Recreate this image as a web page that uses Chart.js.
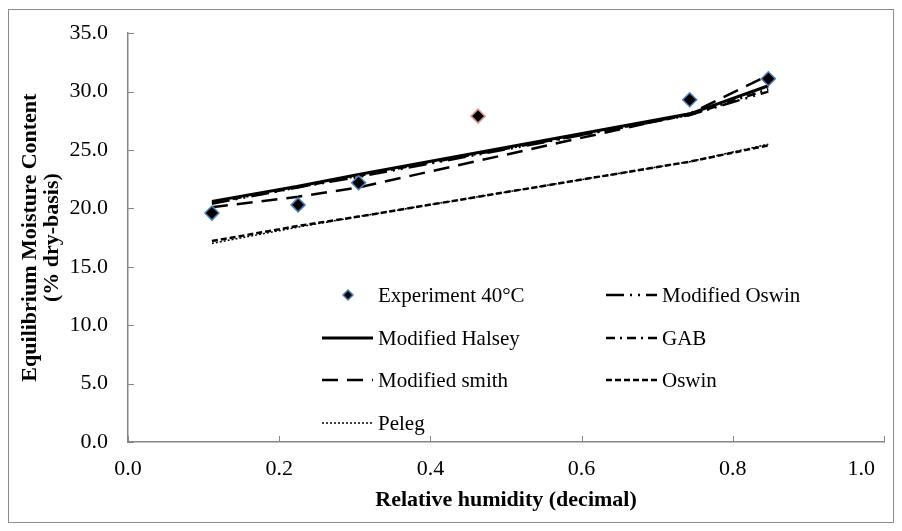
<!DOCTYPE html>
<html>
<head>
<meta charset="utf-8">
<script src="https://cdn.jsdelivr.net/npm/chart.js@4"></script>
<style>
  html, body { margin: 0; padding: 0; background: #fff; }
  #wrap { width: 902px; height: 531px; }
</style>
</head>
<body>
<div id="wrap"><canvas id="emcChart" width="902" height="531"></canvas></div>
<script>
// measured sorption data at 40°C
const rhExp = [0.111, 0.225, 0.305, 0.463, 0.743, 0.847];
const emcExp = [19.6, 20.3, 22.2, 27.9, 29.3, 31.1];

// model predictions
const rhModel = [0.111, 0.225, 0.305, 0.743, 0.847];
const halsey = [20.6, 21.9, 22.9, 28.1, 30.5];
const smith = [20.1, 21.0, 21.8, 28.1, 31.4];
const modOswin = [20.4, 21.8, 22.7, 28.0, 30.0];
const gab = [20.5, 21.8, 22.8, 28.0, 30.2];
const oswin = [17.2, 18.5, 19.3, 24.0, 25.4];
const peleg = [17.0, 18.4, 19.3, 24.0, 25.5];

const FONT = "'Liberation Serif', 'Times New Roman', serif";
const AXIS_GREY = '#868686';
const TICK_SIZE = 22;

function pts(xs, ys) {
    return xs.map((x, i) => ({ x: x, y: ys[i] }));
}

function modelSet(label, ys, dash, width) {
    return {
        label: label,
        data: pts(rhModel, ys),
        showLine: true,
        borderColor: '#000',
        borderWidth: width,
        borderDash: dash,
        pointRadius: 0,
        pointHoverRadius: 0,
        fill: false
    };
}

const datasets = [
    {
        label: 'Experiment 40°C',
        data: pts(rhExp, emcExp),
        pointStyle: 'rectRot',
        pointRadius: 7,
        pointBorderWidth: 1.5,
        pointBackgroundColor: '#000',
        pointBorderColor: emcExp.map((v, i) => i === 3 ? '#d99694' : '#4f81bd'),
        showLine: false
    },
    modelSet('Modified Oswin', modOswin, [18, 6, 2, 6, 2, 6], 2.5),
    modelSet('Modified Halsey', halsey, [], 3),
    modelSet('GAB', gab, [9, 5, 2, 5], 2.5),
    modelSet('Modified smith', smith, [16, 9], 2.5),
    modelSet('Oswin', oswin, [6, 3], 2.5),
    modelSet('Peleg', peleg, [2, 2], 1.5)
];

// legend sits inside the plot, two columns
const legendSlots = [
    { x: 322, y: 295 }, { x: 606, y: 295 },
    { x: 322, y: 338 }, { x: 606, y: 338 },
    { x: 322, y: 380 }, { x: 606, y: 380 },
    { x: 322, y: 423 }
];

const innerLegend = {
    id: 'innerLegend',
    afterDraw(chart) {
        const ctx = chart.ctx;
        ctx.save();
        ctx.font = '21px ' + FONT;
        ctx.textBaseline = 'middle';
        chart.data.datasets.forEach((ds, i) => {
            const s = legendSlots[i];
            if (ds.showLine) {
                ctx.beginPath();
                ctx.strokeStyle = ds.borderColor;
                ctx.lineWidth = ds.borderWidth;
                ctx.setLineDash(ds.borderDash);
                ctx.moveTo(s.x, s.y);
                ctx.lineTo(s.x + 51, s.y);
                ctx.stroke();
                ctx.setLineDash([]);
            } else {
                ctx.fillStyle = '#000';
                ctx.strokeStyle = '#4f81bd';
                ctx.lineWidth = 1.5;
                ctx.beginPath();
                ctx.moveTo(s.x + 26, s.y - 5);
                ctx.lineTo(s.x + 31, s.y);
                ctx.lineTo(s.x + 26, s.y + 5);
                ctx.lineTo(s.x + 21, s.y);
                ctx.closePath();
                ctx.fill();
                ctx.stroke();
            }
            ctx.fillStyle = '#000';
            ctx.fillText(ds.label, s.x + 56, s.y + 1);
        });
        ctx.restore();
    }
};

// tick marks pointing into the plot, the last x label pulled in, and the outer frame
const innerTicks = {
    id: 'innerTicks',
    afterDraw(chart) {
        const ctx = chart.ctx;
        const area = chart.chartArea;
        const xs = chart.scales.x, ys = chart.scales.y;
        ctx.save();
        ctx.strokeStyle = AXIS_GREY;
        ctx.lineWidth = 1;
        ctx.beginPath();
        xs.ticks.forEach(t => {
            const px = Math.round(xs.getPixelForValue(t.value)) + 0.5;
            ctx.moveTo(px, area.bottom);
            ctx.lineTo(px, area.bottom - 6);
        });
        ys.ticks.forEach(t => {
            const py = Math.round(ys.getPixelForValue(t.value)) + 0.5;
            ctx.moveTo(area.left, py);
            ctx.lineTo(area.left + 6, py);
        });
        ctx.stroke();

        ctx.font = TICK_SIZE + 'px ' + FONT;
        ctx.fillStyle = '#000';
        ctx.textAlign = 'right';
        ctx.textBaseline = 'top';
        ctx.fillText(xs.max.toFixed(1), xs.getPixelForValue(xs.max) - 9, area.bottom + 16);

        ctx.strokeStyle = '#8c8c8c';
        ctx.strokeRect(8.5, 9.5, 885, 513);
        ctx.restore();
    }
};

const ctx = document.getElementById('emcChart').getContext('2d');
new Chart(ctx, {
    type: 'scatter',
    data: { datasets: datasets },
    options: {
        responsive: false,
        animation: false,
        events: [],
        layout: { padding: { left: 0, top: 33, right: 18, bottom: 0 } },
        plugins: {
            legend: { display: false },
            tooltip: { enabled: false }
        },
        scales: {
            x: {
                type: 'linear',
                min: 0,
                max: 1,
                afterFit(scale) {
                    scale.height = 89;
                    scale.paddingRight = 0;
                },
                ticks: {
                    stepSize: 0.2,
                    padding: 14,
                    color: '#000',
                    font: { family: FONT, size: TICK_SIZE },
                    callback: v => v >= 1 ? '' : v.toFixed(1)
                },
                grid: { display: false, drawTicks: false },
                border: { display: true, color: AXIS_GREY, width: 1.5 },
                title: {
                    display: true,
                    text: 'Relative humidity (decimal)',
                    color: '#000',
                    font: { family: FONT, size: 22, weight: 'bold' },
                    padding: { top: 0, bottom: 17 }
                }
            },
            y: {
                min: 0,
                max: 35,
                afterFit(scale) { scale.width = 128; },
                ticks: {
                    stepSize: 5,
                    padding: 20,
                    color: '#000',
                    font: { family: FONT, size: TICK_SIZE },
                    callback: v => v.toFixed(1)
                },
                grid: { display: false, drawTicks: false },
                border: { display: true, color: AXIS_GREY, width: 1.5 },
                title: {
                    display: true,
                    text: ['Equilibrium Moisture Content', '(% dry-basis)'],
                    color: '#000',
                    font: { family: FONT, size: 22, weight: 'bold', lineHeight: 1.0 },
                    padding: { top: 19, bottom: 0 }
                }
            }
        }
    },
    plugins: [innerLegend, innerTicks]
});
</script>
</body>
</html>
